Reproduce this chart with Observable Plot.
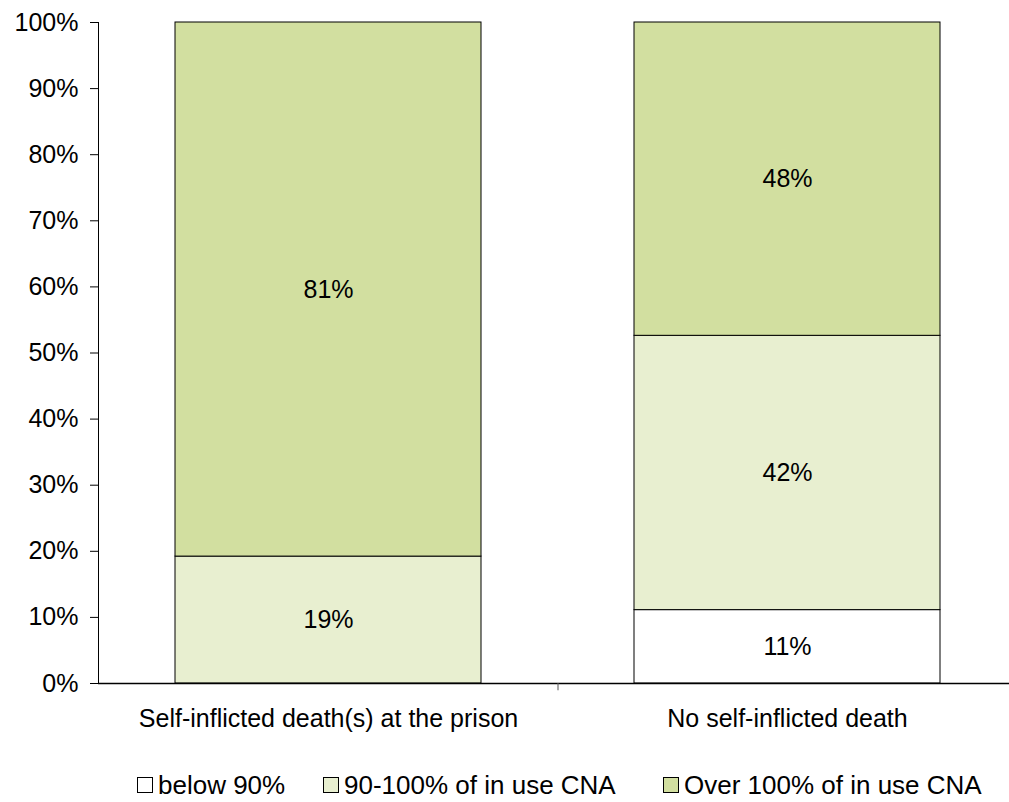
<!DOCTYPE html>
<html>
<head>
<meta charset="utf-8">
<script src="https://cdn.jsdelivr.net/npm/d3@7"></script>
<script src="https://cdn.jsdelivr.net/npm/@observablehq/plot@0.6"></script>
<style>
  html, body { margin: 0; padding: 0; background: #fff; }
  #chart { width: 1009px; }
  .legend { position: relative; height: 56px; width: 1009px; font-family: "Liberation Sans", Arial, sans-serif; font-size: 26px; line-height: 22px; color: #000; }
  .legend .item { position: absolute; top: 29px; height: 22px; display: flex; align-items: center; white-space: nowrap; }
  .legend .sw { width: 14px; height: 14px; border: 1px solid #000; margin-right: 5px; flex: none; }
</style>
</head>
<body>
<div id="chart"></div>
<script>
const categories = ["Self-inflicted death(s) at the prison", "No self-inflicted death"];
const seriesNames = ["below 90%", "90-100% of in use CNA", "Over 100% of in use CNA"];
const seriesColors = ["#ffffff", "#e8efd0", "#d2dfa0"];
const belowValues = [0, 11.1];
const midValues = [19.2, 41.5];
const overValues = [80.8, 47.4];
const belowLabels = ["", "11%"];
const midLabels = ["19%", "42%"];
const overLabels = ["81%", "48%"];
const yTicks = [0, 10, 20, 30, 40, 50, 60, 70, 80, 90, 100];

const seriesValues = [belowValues, midValues, overValues];
const seriesLabels = [belowLabels, midLabels, overLabels];
const rows = [];
categories.forEach((c, i) => {
  seriesNames.forEach((s, j) => {
    rows.push({cat: c, series: s, value: seriesValues[j][i], label: seriesLabels[j][i]});
  });
});

const font = '"Liberation Sans", Arial, sans-serif';
const stepHalf = (1016 - 98) / categories.length / 2;

const chart = Plot.plot({
  width: 1009,
  height: 745,
  marginTop: 22,
  marginBottom: 62,
  marginLeft: 98,
  marginRight: 0,
  style: {fontFamily: font, fontSize: "25px", color: "#000", background: "#fff"},
  x: {domain: categories, range: [98, 1016], paddingInner: 1/3, paddingOuter: 1/6, label: null, tickSize: 0, tickPadding: 26},
  y: {domain: [0, 100], ticks: yTicks, tickFormat: d => d + "%", tickSize: 8, tickPadding: 12, label: null, line: true},
  color: {domain: seriesNames, range: seriesColors},
  marks: [
    Plot.barY(rows, {x: "cat", y: "value", fill: "series", z: "series", order: seriesNames, stroke: "#000", strokeWidth: 1}),
    Plot.text(rows, Plot.stackY({x: "cat", y: "value", z: "series", order: seriesNames, text: "label", fill: "#000", fontSize: 25})),
    Plot.ruleY([0], {stroke: "#000", strokeWidth: 1.5}),
    Plot.ruleX([categories[0]], {x: d => d, dx: stepHalf, y1: 0, y2: -1.1, stroke: "#555", strokeWidth: 1})
  ]
});
document.getElementById("chart").appendChild(chart);

const legend = document.createElement("div");
legend.className = "legend";
const legendLeft = [137, 323, 663];
seriesNames.forEach((s, j) => {
  const item = document.createElement("div");
  item.className = "item";
  item.style.left = legendLeft[j] + "px";
  const sw = document.createElement("span");
  sw.className = "sw";
  sw.style.background = seriesColors[j];
  const t = document.createElement("span");
  t.textContent = s;
  item.appendChild(sw);
  item.appendChild(t);
  legend.appendChild(item);
});
document.getElementById("chart").appendChild(legend);
</script>
</body>
</html>
